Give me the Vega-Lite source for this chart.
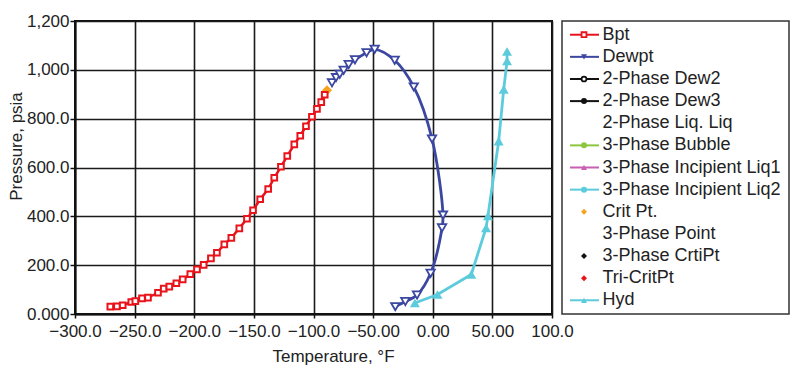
{
  "$schema": "https://vega.github.io/schema/vega-lite/v6.json",
  "padding": {"left": 6, "top": 11, "right": 0, "bottom": 0},
  "bounds": "flush",
  "spacing": 10,
  "config": {
    "font": "Liberation Sans",
    "legend": {"disable": true},
    "axis": {"labelFont": "Liberation Sans", "titleFont": "Liberation Sans", "labelFontSize": 17, "titleFontSize": 17, "titleFontWeight": "normal", "labelColor": "#222", "titleColor": "#222"}
  },
  "datasets": {
    "curves": [
      {"series": "Bpt", "i": 1, "T": -270.4, "P": 30},
      {"series": "Bpt", "i": 2, "T": -264.8, "P": 31},
      {"series": "Bpt", "i": 3, "T": -260.0, "P": 36},
      {"series": "Bpt", "i": 4, "T": -252.8, "P": 49},
      {"series": "Bpt", "i": 5, "T": -249.4, "P": 53},
      {"series": "Bpt", "i": 6, "T": -243.8, "P": 64},
      {"series": "Bpt", "i": 7, "T": -238.8, "P": 67},
      {"series": "Bpt", "i": 8, "T": -230.4, "P": 87},
      {"series": "Bpt", "i": 9, "T": -225.6, "P": 104},
      {"series": "Bpt", "i": 10, "T": -220.9, "P": 112},
      {"series": "Bpt", "i": 11, "T": -215.0, "P": 126},
      {"series": "Bpt", "i": 12, "T": -209.7, "P": 142},
      {"series": "Bpt", "i": 13, "T": -203.3, "P": 163},
      {"series": "Bpt", "i": 14, "T": -197.7, "P": 183},
      {"series": "Bpt", "i": 15, "T": -192.1, "P": 201},
      {"series": "Bpt", "i": 16, "T": -186.0, "P": 228},
      {"series": "Bpt", "i": 17, "T": -181.0, "P": 251},
      {"series": "Bpt", "i": 18, "T": -174.8, "P": 285},
      {"series": "Bpt", "i": 19, "T": -168.9, "P": 312},
      {"series": "Bpt", "i": 20, "T": -162.2, "P": 351},
      {"series": "Bpt", "i": 21, "T": -155.8, "P": 390},
      {"series": "Bpt", "i": 22, "T": -150.7, "P": 425},
      {"series": "Bpt", "i": 23, "T": -144.7, "P": 470},
      {"series": "Bpt", "i": 24, "T": -138.0, "P": 512},
      {"series": "Bpt", "i": 25, "T": -132.9, "P": 558},
      {"series": "Bpt", "i": 26, "T": -127.3, "P": 603},
      {"series": "Bpt", "i": 27, "T": -122.0, "P": 647},
      {"series": "Bpt", "i": 28, "T": -116.1, "P": 695},
      {"series": "Bpt", "i": 29, "T": -111.1, "P": 730},
      {"series": "Bpt", "i": 30, "T": -106.3, "P": 769},
      {"series": "Bpt", "i": 31, "T": -101.3, "P": 808},
      {"series": "Bpt", "i": 32, "T": -97.1, "P": 840},
      {"series": "Bpt", "i": 33, "T": -93.5, "P": 868},
      {"series": "Bpt", "i": 34, "T": -90.6, "P": 898},
      {"series": "Dewpt", "i": 1, "T": -84.5, "P": 947},
      {"series": "Dewpt", "i": 2, "T": -81.1, "P": 968},
      {"series": "Dewpt", "i": 3, "T": -78.0, "P": 982},
      {"series": "Dewpt", "i": 4, "T": -74.7, "P": 998},
      {"series": "Dewpt", "i": 5, "T": -70.5, "P": 1022},
      {"series": "Dewpt", "i": 6, "T": -65.2, "P": 1041},
      {"series": "Dewpt", "i": 7, "T": -55.5, "P": 1070},
      {"series": "Dewpt", "i": 8, "T": -48.7, "P": 1084},
      {"series": "Dewpt", "i": 9, "T": -31.9, "P": 1039},
      {"series": "Dewpt", "i": 10, "T": -15.9, "P": 930},
      {"series": "Dewpt", "i": 11, "T": -0.6, "P": 717},
      {"series": "Dewpt", "i": 12, "T": 8.6, "P": 405},
      {"series": "Dewpt", "i": 13, "T": 7.8, "P": 353},
      {"series": "Dewpt", "i": 14, "T": -1.8, "P": 167},
      {"series": "Dewpt", "i": 15, "T": -13.2, "P": 78},
      {"series": "Dewpt", "i": 16, "T": -23.0, "P": 51},
      {"series": "Dewpt", "i": 17, "T": -31.4, "P": 30},
      {"series": "Hyd", "i": 1, "T": -15.0, "P": 45},
      {"series": "Hyd", "i": 2, "T": 4.0, "P": 80},
      {"series": "Hyd", "i": 3, "T": 32.3, "P": 162},
      {"series": "Hyd", "i": 4, "T": 44.7, "P": 353},
      {"series": "Hyd", "i": 5, "T": 46.3, "P": 402},
      {"series": "Hyd", "i": 6, "T": 55.3, "P": 708},
      {"series": "Hyd", "i": 7, "T": 59.5, "P": 920},
      {"series": "Hyd", "i": 8, "T": 62.3, "P": 1036},
      {"series": "Hyd", "i": 9, "T": 62.3, "P": 1075},
      {"series": "Crit Pt.", "i": 1, "T": -88.7, "P": 916}
    ],
    "legend": [
      {"series": "Bpt"},
      {"series": "Dewpt"},
      {"series": "2-Phase Dew2"},
      {"series": "2-Phase Dew3"},
      {"series": "2-Phase Liq. Liq"},
      {"series": "3-Phase Bubble"},
      {"series": "3-Phase Incipient Liq1"},
      {"series": "3-Phase Incipient Liq2"},
      {"series": "Crit Pt."},
      {"series": "3-Phase Point"},
      {"series": "3-Phase CrtiPt"},
      {"series": "Tri-CritPt"},
      {"series": "Hyd"}
    ]
  },
  "hconcat": [
    {
      "width": 477,
      "height": 293,
      "view": {"stroke": "#111", "strokeWidth": 2},
      "data": {"name": "curves"},
      "encoding": {
        "x": {"field": "T", "type": "quantitative", "title": "Temperature, °F",
          "scale": {"domain": [-300, 100], "nice": false, "zero": false},
          "axis": {"values": [-300, -250, -200, -150, -100, -50, 0, 50, 100],
            "labelExpr": "abs(datum.value) >= 100 ? format(datum.value, '.1f') : format(datum.value, '.2f')",
            "domainColor": "#111", "domainWidth": 2, "gridColor": "#1a1a1a", "gridWidth": 1.6,
            "tickColor": "#111", "tickWidth": 1.5, "tickSize": 4, "labelPadding": 5, "labelFlush": false,
            "titleX": 258, "titleY": 34, "titleBaseline": "top", "titleAnchor": null}},
        "y": {"field": "P", "type": "quantitative", "title": "Pressure, psia",
          "scale": {"domain": [0, 1200], "nice": false},
          "axis": {"values": [0, 200, 400, 600, 800, 1000, 1200],
            "labelExpr": "datum.value >= 1000 ? format(datum.value, ',') : datum.value == 0 ? '0.000' : format(datum.value, '.1f')",
            "domainColor": "#111", "domainWidth": 2, "gridColor": "#1a1a1a", "gridWidth": 1.6,
            "tickColor": "#111", "tickWidth": 1.5, "tickSize": 5, "labelPadding": 1, "labelFlush": false,
            "titleX": -59, "titleY": 125, "titleAngle": -90, "titleAlign": "center", "titleBaseline": "middle"}}
      },
      "layer": [
        {
          "transform": [{"filter": "datum.series == 'Bpt'"}],
          "mark": {"type": "line", "strokeWidth": 2.5},
          "encoding": {
            "order": {"field": "i", "type": "quantitative"},
            "color": {"field": "series", "type": "nominal", "scale": {"domain": ["Bpt", "Dewpt", "2-Phase Dew2", "2-Phase Dew3", "2-Phase Liq. Liq", "3-Phase Bubble", "3-Phase Incipient Liq1", "3-Phase Incipient Liq2", "Crit Pt.", "3-Phase Point", "3-Phase CrtiPt", "Tri-CritPt", "Hyd"], "range": ["#e8131b", "#3b47a0", "#111111", "#111111", "#111111", "#8cc63f", "#c75fb2", "#5ccbdb", "#f5a31f", "#111111", "#111111", "#e8131b", "#5ccbdb"]}}
          }
        },
        {
          "transform": [{"filter": "datum.series == 'Dewpt'"}],
          "mark": {"type": "line", "strokeWidth": 2.8, "interpolate": "catmull-rom"},
          "encoding": {
            "order": {"field": "i", "type": "quantitative"},
            "color": {"field": "series", "type": "nominal"}
          }
        },
        {
          "transform": [{"filter": "datum.series == 'Hyd'"}],
          "mark": {"type": "line", "strokeWidth": 2.8},
          "encoding": {
            "order": {"field": "i", "type": "quantitative"},
            "color": {"field": "series", "type": "nominal"}
          }
        },
        {
          "transform": [{"filter": "datum.series == 'Crit Pt.'"}],
          "mark": {"type": "point", "shape": "diamond", "size": 100, "opacity": 1, "filled": true},
          "encoding": {
            "color": {"field": "series", "type": "nominal"}
          }
        },
        {
          "transform": [{"filter": "datum.series == 'Bpt'"}],
          "mark": {"type": "point", "shape": "square", "size": 32, "opacity": 1, "strokeWidth": 2, "fill": "white", "filled": false},
          "encoding": {
            "color": {"field": "series", "type": "nominal"}
          }
        },
        {
          "transform": [{"filter": "datum.series == 'Dewpt'"}],
          "mark": {"type": "point", "shape": "triangle-down", "size": 70, "opacity": 1, "strokeWidth": 1.8, "fill": "white", "filled": false},
          "encoding": {
            "color": {"field": "series", "type": "nominal"}
          }
        },
        {
          "transform": [{"filter": "datum.series == 'Hyd'"}],
          "mark": {"type": "point", "shape": "triangle-up", "size": 100, "opacity": 1, "filled": true},
          "encoding": {
            "color": {"field": "series", "type": "nominal"}
          }
        }
      ]
    },
    {
      "width": 227,
      "height": 293,
      "view": {"stroke": "#333", "strokeWidth": 1.5},
      "data": {"name": "legend"},
      "encoding": {
        "y": {"field": "series", "type": "nominal", "axis": null,
          "scale": {"type": "point", "padding": 0.62, "domain": ["Bpt", "Dewpt", "2-Phase Dew2", "2-Phase Dew3", "2-Phase Liq. Liq", "3-Phase Bubble", "3-Phase Incipient Liq1", "3-Phase Incipient Liq2", "Crit Pt.", "3-Phase Point", "3-Phase CrtiPt", "Tri-CritPt", "Hyd"]}}
      },
      "layer": [
        {
          "transform": [{"filter": {"not": {"field": "series", "oneOf": ["2-Phase Liq. Liq", "Crit Pt.", "3-Phase Point", "3-Phase CrtiPt", "Tri-CritPt"]}}}],
          "mark": {"type": "rule", "strokeWidth": 2},
          "encoding": {
            "x": {"datum": 8, "type": "quantitative", "scale": {"domain": [0, 227]}, "axis": null},
            "x2": {"datum": 37},
            "color": {"field": "series", "type": "nominal"}
          }
        },
        {
          "transform": [{"filter": {"field": "series", "oneOf": ["Dewpt", "2-Phase Dew3", "3-Phase Bubble", "3-Phase Incipient Liq1", "3-Phase Incipient Liq2", "Crit Pt.", "3-Phase CrtiPt", "Tri-CritPt", "Hyd"]}}],
          "mark": {"type": "point", "opacity": 1, "filled": true, "size": 36},
          "encoding": {
            "x": {"datum": 22, "type": "quantitative", "scale": {"domain": [0, 227]}, "axis": null},
            "color": {"field": "series", "type": "nominal"},
            "shape": {"field": "series", "type": "nominal", "scale": {"domain": ["Bpt", "Dewpt", "2-Phase Dew2", "2-Phase Dew3", "2-Phase Liq. Liq", "3-Phase Bubble", "3-Phase Incipient Liq1", "3-Phase Incipient Liq2", "Crit Pt.", "3-Phase Point", "3-Phase CrtiPt", "Tri-CritPt", "Hyd"], "range": ["square", "triangle-down", "circle", "circle", "circle", "circle", "triangle-up", "circle", "diamond", "circle", "diamond", "diamond", "triangle-up"]}}
          }
        },
        {
          "transform": [{"filter": {"field": "series", "oneOf": ["Bpt", "2-Phase Dew2"]}}],
          "mark": {"type": "point", "opacity": 1, "filled": false, "fill": "white", "strokeWidth": 1.8, "size": 24},
          "encoding": {
            "x": {"datum": 22, "type": "quantitative", "scale": {"domain": [0, 227]}, "axis": null},
            "color": {"field": "series", "type": "nominal"},
            "shape": {"field": "series", "type": "nominal"}
          }
        },
        {
          "mark": {"type": "text", "align": "left", "baseline": "middle", "fontSize": 18, "font": "Liberation Sans", "color": "#222"},
          "encoding": {
            "x": {"datum": 40.5, "type": "quantitative", "scale": {"domain": [0, 227]}, "axis": null},
            "text": {"field": "series", "type": "nominal"}
          }
        }
      ]
    }
  ]
}
